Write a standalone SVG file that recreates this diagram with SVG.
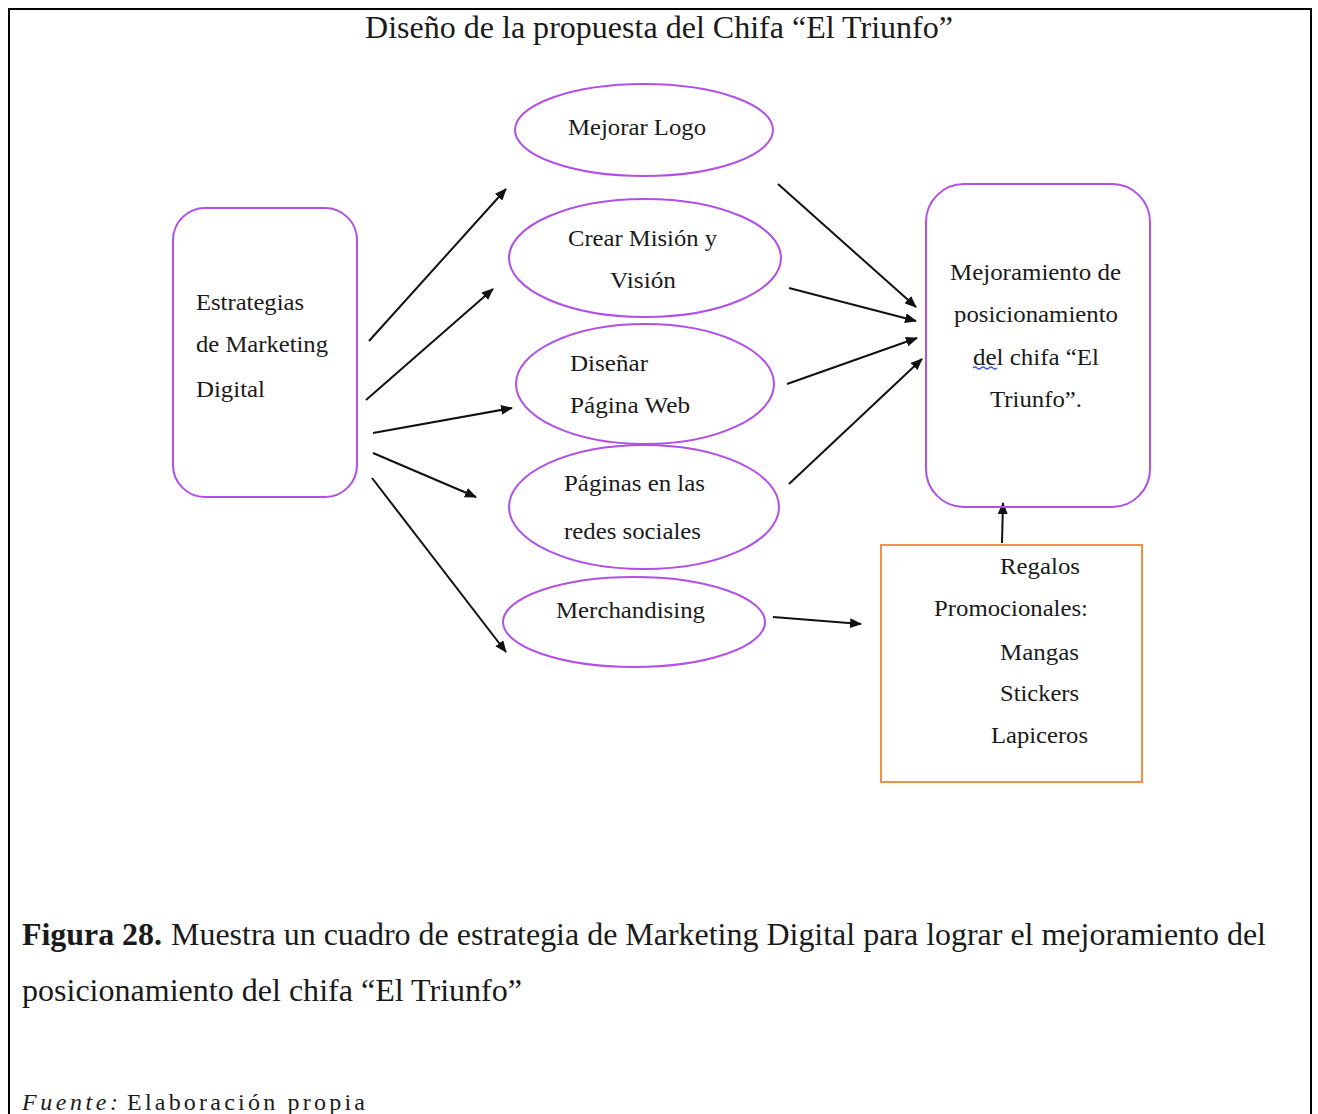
<svg xmlns="http://www.w3.org/2000/svg" width="1318" height="1114" viewBox="0 0 1318 1114">
<defs>
<style>
.t{font-family:"Liberation Serif","Times New Roman",serif;fill:#1a1a1a}
.n{font-size:24px}
.p{fill:none;stroke:#b24fe8;stroke-width:2}
.o{fill:none;stroke:#f39047;stroke-width:2}
.c{stroke:#111;stroke-width:2;fill:none;marker-end:url(#ah)}
</style>
<marker id="ah" viewBox="0 0 12 10" refX="11" refY="5" markerWidth="12" markerHeight="10" markerUnits="userSpaceOnUse" orient="auto">
<path d="M0,0 L12,5 L0,10 z" fill="#111"/>
</marker>
</defs>
<rect width="1318" height="1114" fill="#fff"/>
<g id="frame">
<path d="M9,1114 V9 H1311 V1114" fill="none" stroke="#000" stroke-width="2"/>
</g>
<text class="t" x="365" y="38" font-size="32" textLength="588" lengthAdjust="spacingAndGlyphs">Diseño de la propuesta del Chifa “El Triunfo”</text>

<g id="connectors">
<line class="c" x1="369" y1="341" x2="506" y2="189"/>
<line class="c" x1="366" y1="400" x2="493" y2="289"/>
<line class="c" x1="373" y1="433" x2="512" y2="408"/>
<line class="c" x1="373" y1="453" x2="476" y2="497"/>
<line class="c" x1="372" y1="478" x2="506" y2="652"/>
<line class="c" x1="778" y1="184" x2="916" y2="307"/>
<line class="c" x1="789" y1="288" x2="916" y2="321"/>
<line class="c" x1="787" y1="384" x2="917" y2="338"/>
<line class="c" x1="789" y1="484" x2="922" y2="359"/>
<line class="c" x1="773" y1="617" x2="861" y2="624"/>
<line class="c" x1="1002" y1="543" x2="1003" y2="503"/>
</g>

<g id="estrategias">
<rect class="p" x="173" y="208" width="184" height="289" rx="32"/>
<text class="t n" x="196" y="310" textLength="108" lengthAdjust="spacingAndGlyphs">Estrategias</text>
<text class="t n" x="196" y="352" textLength="132" lengthAdjust="spacingAndGlyphs">de Marketing</text>
<text class="t n" x="196" y="397" textLength="69" lengthAdjust="spacingAndGlyphs">Digital</text>
</g>

<g id="mejorar-logo">
<ellipse class="p" cx="644" cy="130" rx="129" ry="46"/>
<text class="t n" x="568" y="135" textLength="138" lengthAdjust="spacingAndGlyphs">Mejorar Logo</text>
</g>

<g id="crear-mision">
<ellipse class="p" cx="645" cy="258" rx="136" ry="59"/>
<text class="t n" x="568" y="246" textLength="149" lengthAdjust="spacingAndGlyphs">Crear Misión y</text>
<text class="t n" x="610" y="288" textLength="66" lengthAdjust="spacingAndGlyphs">Visión</text>
</g>

<g id="disenar-web">
<ellipse class="p" cx="645" cy="384" rx="129" ry="60"/>
<text class="t n" x="570" y="371" textLength="78" lengthAdjust="spacingAndGlyphs">Diseñar</text>
<text class="t n" x="570" y="413" textLength="120" lengthAdjust="spacingAndGlyphs">Página Web</text>
</g>

<g id="redes-sociales">
<ellipse class="p" cx="644" cy="507" rx="135" ry="62"/>
<text class="t n" x="564" y="491" textLength="141" lengthAdjust="spacingAndGlyphs">Páginas en las</text>
<text class="t n" x="564" y="539" textLength="137" lengthAdjust="spacingAndGlyphs">redes sociales</text>
</g>

<g id="merchandising">
<ellipse class="p" cx="634" cy="622" rx="131" ry="45"/>
<text class="t n" x="556" y="618" textLength="149" lengthAdjust="spacingAndGlyphs">Merchandising</text>
</g>

<g id="mejoramiento">
<rect class="p" x="926" y="184" width="224" height="323" rx="38"/>
<text class="t n" x="950" y="280" textLength="171" lengthAdjust="spacingAndGlyphs">Mejoramiento de</text>
<text class="t n" x="954" y="322" textLength="164" lengthAdjust="spacingAndGlyphs">posicionamiento</text>
<text class="t n" x="973" y="365" textLength="126" lengthAdjust="spacingAndGlyphs">del chifa “El</text>
<text class="t n" x="990" y="407" textLength="92" lengthAdjust="spacingAndGlyphs">Triunfo”.</text>
<path d="M973,368 q2,-2 4,0 t4,0 t4,0 t4,0 t4,0 t4,0" fill="none" stroke="#3a5bd9" stroke-width="1.2"/>
</g>

<g id="regalos">
<rect class="o" x="881" y="545" width="261" height="237"/>
<text class="t n" x="1000" y="574" textLength="80" lengthAdjust="spacingAndGlyphs">Regalos</text>
<text class="t n" x="934" y="616" textLength="154" lengthAdjust="spacingAndGlyphs">Promocionales:</text>
<text class="t n" x="1000" y="660" textLength="79" lengthAdjust="spacingAndGlyphs">Mangas</text>
<text class="t n" x="1000" y="701" textLength="79" lengthAdjust="spacingAndGlyphs">Stickers</text>
<text class="t n" x="991" y="743" textLength="97" lengthAdjust="spacingAndGlyphs">Lapiceros</text>
</g>

<g id="caption">
<text class="t" x="22" y="945" font-size="32" font-weight="bold" textLength="140" lengthAdjust="spacingAndGlyphs" fill="#000">Figura 28.</text>
<text class="t" x="171" y="945" font-size="32" textLength="1095" lengthAdjust="spacingAndGlyphs">Muestra un cuadro de estrategia de Marketing Digital para lograr el mejoramiento del</text>
<text class="t" x="22" y="1001" font-size="32" textLength="500" lengthAdjust="spacingAndGlyphs">posicionamiento del chifa “El Triunfo”</text>
<text class="t" x="22" y="1110" font-size="24" font-style="italic" textLength="96">Fuente:</text>
<text class="t" x="127" y="1110" font-size="24" textLength="238">Elaboración propia</text>
</g>
</svg>
